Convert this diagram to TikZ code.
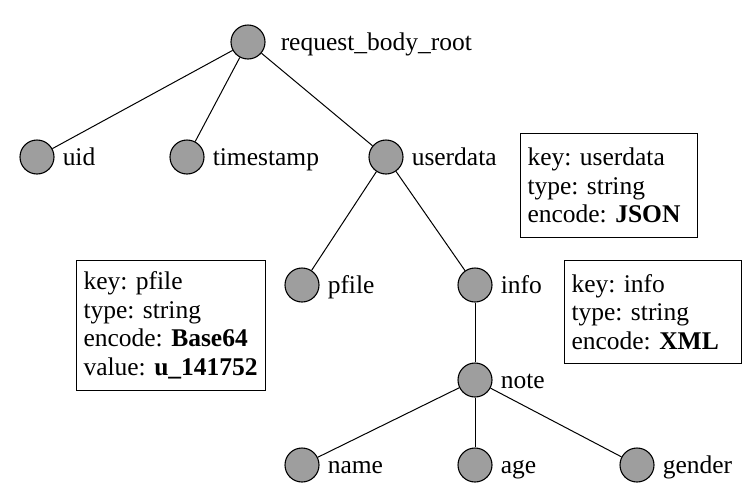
\documentclass[tikz,border=0pt]{standalone}
\usepackage{fontspec}
\setmainfont{Liberation Serif}
\frenchspacing
\definecolor{nodegray}{RGB}{158, 158, 158}
\tikzset{
    leaf/.style={circle, draw=black, fill=nodegray, line width=1.1pt,
                 minimum size=34pt, inner sep=0pt},
    leaflabel/.style={label distance=7pt, font=\fontsize{25.5}{28}\selectfont,
                      inner sep=1pt, text height=17pt, text depth=1pt},
    infobox/.style={draw=black, line width=1pt, anchor=north west,
                    inner xsep=7pt, inner ysep=0pt, align=left,
                    font=\fontsize{25.5}{28.5}\selectfont},
    edge/.style={draw=black, line width=1pt},
}

\begin{document}
\begin{tikzpicture}[x=1pt, y=-1pt]
            \useasboundingbox (0, 0) rectangle (756, 504);
            % tree
            \node[leaf, label={[leaflabel, label distance=14pt]right:request\_body\_root}] (root) at (248,  42) {};
            \node[leaf, label={[leaflabel]right:uid}]       (uid)       at ( 37, 157) {};
            \node[leaf, label={[leaflabel]right:timestamp}] (timestamp) at (187, 157) {};
            \node[leaf, label={[leaflabel]right:userdata}]  (userdata)  at (386, 157) {};
            \node[leaf, label={[leaflabel]right:pfile}]     (pfile)     at (302, 285) {};
            \node[leaf, label={[leaflabel]right:info}]      (info)      at (475, 285) {};
            \node[leaf, label={[leaflabel]right:note}]      (note)      at (475, 380) {};
            \node[leaf, label={[leaflabel]right:name}]      (name)      at (302, 465) {};
            \node[leaf, label={[leaflabel]right:age}]       (age)       at (475, 465) {};
            \node[leaf, label={[leaflabel]right:gender}]    (gender)    at (637, 465) {};

            \draw[edge] (root)     -- (uid);
            \draw[edge] (root)     -- (timestamp);
            \draw[edge] (root)     -- (userdata);
            \draw[edge] (userdata) -- (pfile);
            \draw[edge] (userdata) -- (info);
            \draw[edge] (info)     -- (note);
            \draw[edge] (note)     -- (name);
            \draw[edge] (note)     -- (age);
            \draw[edge] (note)     -- (gender);

            % field descriptions
            \node[infobox, text width=163pt, minimum height=104pt] (userdatabox) at (520, 133)
                 {key: userdata\\type: string\\encode: \textbf{JSON}};
            \node[infobox, text width=175pt, minimum height=130pt] (pfilebox)    at ( 76, 260)
                 {key: pfile\\type: string\\encode: \textbf{Base64}\\value: \textbf{u\_141752}};
            \node[infobox, text width=163pt, minimum height=103pt] (infobox)     at (564, 260)
                 {key: info\\type: string\\encode: \textbf{XML}};
        \end{tikzpicture}
\end{document}
